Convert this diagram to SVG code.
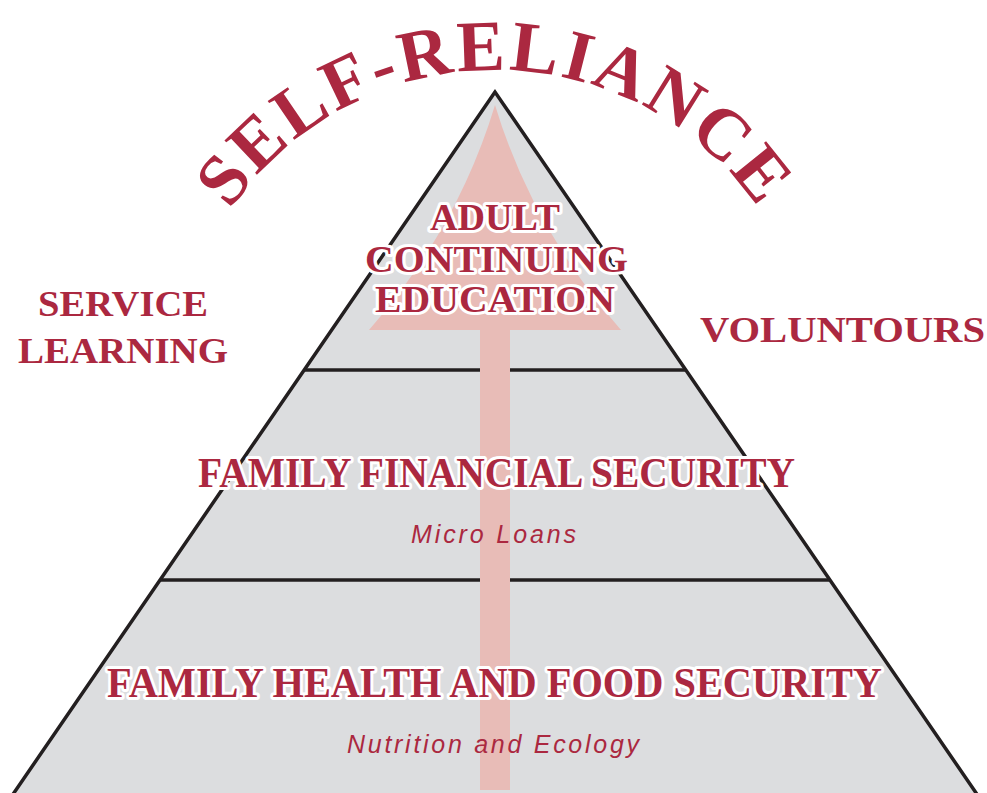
<svg xmlns="http://www.w3.org/2000/svg" width="987" height="793" viewBox="0 0 987 793">
<defs>
<style>
.head{font-family:"Liberation Serif",serif;font-weight:bold;fill:#ab2840}
.out{stroke:#ffffff;stroke-width:6;stroke-linejoin:round;paint-order:stroke}
.sub{font-family:"Liberation Sans",Arial,sans-serif;font-style:italic;font-size:25px;fill:#ab2840}
.div{stroke:#231f20;stroke-width:3.5}
</style>
<path id="arc" d="M194.3,280.6 A320,320 0 0,1 795.7,280.6" fill="none"/>
</defs>
<rect width="987" height="793" fill="#ffffff"/>
<g id="pyramid">
<polygon points="495,92 7,803 983,803" fill="#dcdddf" stroke="#231f20" stroke-width="3.5" stroke-linejoin="miter"/>
<line class="div" x1="304" y1="370" x2="686" y2="370"/>
<line class="div" x1="160" y1="580" x2="830" y2="580"/>
</g>
<g id="connectors">
<path d="M495,105 Q458,228 369,330 L621,330 Q532,228 495,105 Z" fill="#e8bcb7"/>
<rect x="480" y="320" width="30" height="470" fill="#e8bcb7"/>
</g>
<g id="title">
<text class="head" font-size="72" letter-spacing="3"><textPath href="#arc" startOffset="50%" text-anchor="middle">SELF-RELIANCE</textPath></text>
</g>
<g id="tier-top">
<text class="head out" font-size="37" x="430" y="230" textLength="130" lengthAdjust="spacingAndGlyphs">ADULT</text>
<text class="head out" font-size="37" x="365" y="272" textLength="263" lengthAdjust="spacingAndGlyphs">CONTINUING</text>
<text class="head out" font-size="37" x="375" y="312" textLength="240" lengthAdjust="spacingAndGlyphs">EDUCATION</text>
</g>
<g id="tier-middle">
<text class="head out" font-size="42" x="198" y="487" textLength="597" lengthAdjust="spacingAndGlyphs">FAMILY FINANCIAL SECURITY</text>
<text class="sub" x="411" y="543" textLength="165">Micro Loans</text>
</g>
<g id="tier-bottom">
<text class="head out" font-size="42" x="107" y="697" textLength="775" lengthAdjust="spacingAndGlyphs">FAMILY HEALTH AND FOOD SECURITY</text>
<text class="sub" x="347" y="753" textLength="292">Nutrition and Ecology</text>
</g>
<g id="service-learning">
<text class="head" font-size="35" x="38" y="316" textLength="170" lengthAdjust="spacingAndGlyphs">SERVICE</text>
<text class="head" font-size="35" x="18" y="363" textLength="210" lengthAdjust="spacingAndGlyphs">LEARNING</text>
</g>
<g id="voluntours">
<text class="head" font-size="35" x="700" y="342" textLength="285" lengthAdjust="spacingAndGlyphs">VOLUNTOURS</text>
</g>
</svg>
